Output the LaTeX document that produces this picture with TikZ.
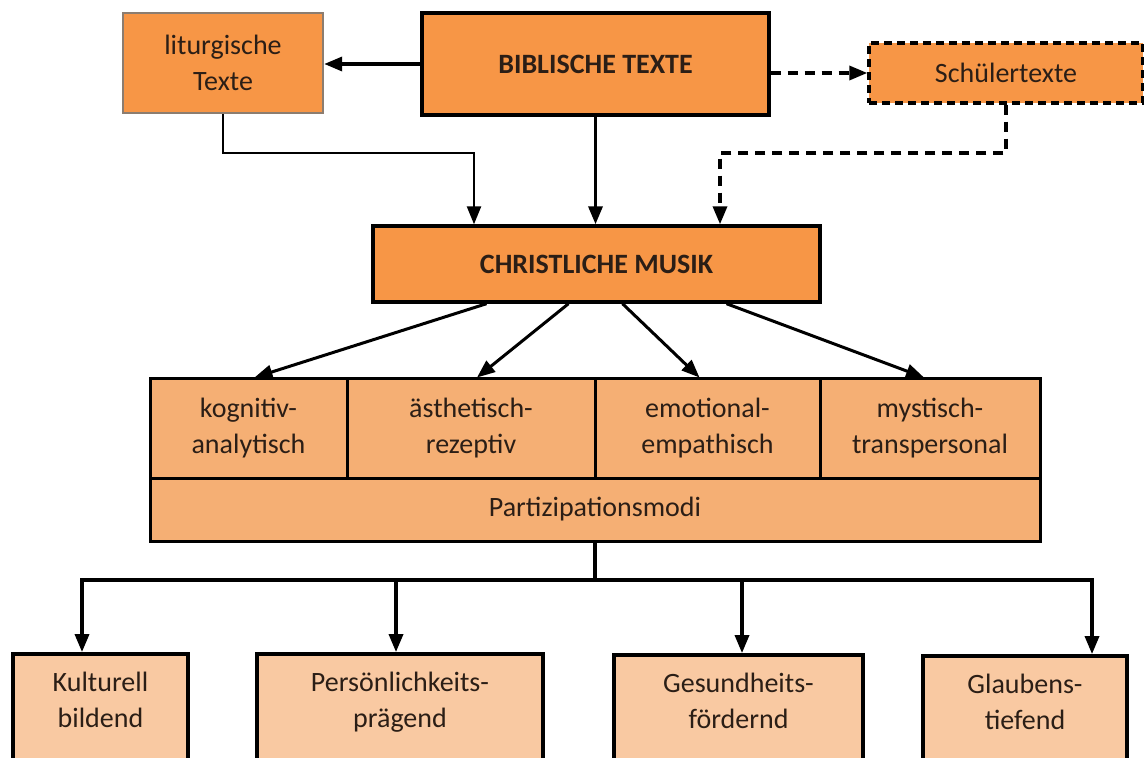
\documentclass[tikz,border=0pt]{standalone}
\usepackage{fontspec}
\setmainfont{Carlito}
\usepackage{tikz}
\usetikzlibrary{calc,positioning,arrows.meta}
\definecolor{musOrange}{HTML}{F79646}
\definecolor{musApricot}{HTML}{F5AF74}
\definecolor{musPeach}{HTML}{F9C9A2}
\definecolor{musInk}{HTML}{2B1E16}
\definecolor{musTaupe}{HTML}{8C7D70}

\begin{document}
\begin{tikzpicture}[x=0.5pt,y=-0.5pt,
  box/.style={draw=black,line width=1.7pt,fill=musOrange,text=musInk,
              font=\fontsize{14}{18}\selectfont,align=center,inner sep=0pt},
  headbox/.style={box,font=\fontsize{14}{18}\selectfont\bfseries},
  modebox/.style={box,fill=musApricot,line width=1.5pt},
  goalbox/.style={box,fill=musPeach,line width=1.9pt,text depth=10pt},
  arrow/.style={-{Triangle[length=9pt,width=7pt]},line width=1.7pt},
  dasharrow/.style={arrow,dash pattern=on 5pt off 3.5pt}]
  \useasboundingbox (0,0) rectangle (1144,758);
  \clip (0,0) rectangle (1144,758);

  % sources
  \node[box,draw=musTaupe,line width=1.2pt,minimum width=100pt,minimum height=50pt]
    (lit) at (223,63) {liturgische\\Texte};
  \node[headbox,minimum width=173.5pt,minimum height=51pt]
    (bib) at (595.5,64) {BIBLISCHE TEXTE};
  \node[box,dash pattern=on 4pt off 2.5pt,minimum width=137pt,minimum height=30pt]
    (schul) at (1006,73) {Schülertexte};
  \node[headbox,minimum width=223.5pt,minimum height=38pt]
    (cm) at (596.5,264) {CHRISTLICHE MUSIK};

  % modes of participation
  \node[modebox,minimum width=98.5pt,minimum height=49.5pt]
    (kog) at (248.5,428.5) {kognitiv-\\analytisch};
  \node[modebox,minimum width=124pt,minimum height=49.5pt]
    (aes) at (471,428.5) {ästhetisch-\\rezeptiv};
  \node[modebox,minimum width=112.5pt,minimum height=49.5pt]
    (emo) at (707.5,428.5) {emotional-\\empathisch};
  \node[modebox,minimum width=110pt,minimum height=49.5pt]
    (mys) at (930,428.5) {mystisch-\\transpersonal};
  \node[modebox,minimum width=445pt,minimum height=31.5pt]
    (part) at (595,509.5) {Partizipationsmodi};

  % effects
  \node[goalbox,minimum width=87.5pt,minimum height=56pt]
    (kult) at (100.5,710) {Kulturell\\bildend};
  \node[goalbox,minimum width=143pt,minimum height=56pt]
    (pers) at (400,710) {Persönlichkeits-\\prägend};
  \node[goalbox,minimum width=124.5pt,minimum height=56pt]
    (ges) at (738.5,711) {Gesundheits-\\fördernd};
  \node[goalbox,minimum width=102pt,minimum height=56pt]
    (glau) at (1025,712) {Glaubens-\\tiefend};

  \coordinate (litjoin) at (474,153);
  \coordinate (schuljoin) at (720,153);
  \coordinate (hub) at (595,580);

  \draw[arrow] (bib.west) -- (bib.west -| lit.east);
  \draw[dasharrow] (bib.east |- schul.west) -- (schul.west);
  \draw[arrow,line width=1.2pt] (lit.south) |- (litjoin) -- (litjoin |- cm.north);
  \draw[arrow] (bib.south) -- (bib.south |- cm.north);
  \draw[dasharrow] (schul.south) |- (schuljoin) -- (schuljoin |- cm.north);

  \draw[arrow,line width=1.5pt] ([xshift=-55pt]cm.south) -- ([xshift=3pt]kog.north);
  \draw[arrow,line width=1.5pt] ([xshift=-14pt]cm.south) -- ([xshift=3pt]aes.north);
  \draw[arrow,line width=1.5pt] ([xshift=13pt]cm.south) -- ([xshift=-4pt]emo.north);
  \draw[arrow,line width=1.5pt] ([xshift=65pt]cm.south) -- ([xshift=-3pt]mys.north);

  \draw[line width=1.7pt] (part.south) -- (hub);
  \draw[arrow] (hub) -| ([xshift=-9.25pt]kult.north);
  \draw[arrow] (hub) -| ([xshift=-2pt]pers.north);
  \draw[arrow] (hub) -| ([xshift=1.75pt]ges.north);
  \draw[arrow] (hub) -| ([xshift=33.5pt]glau.north);
\end{tikzpicture}
\end{document}
